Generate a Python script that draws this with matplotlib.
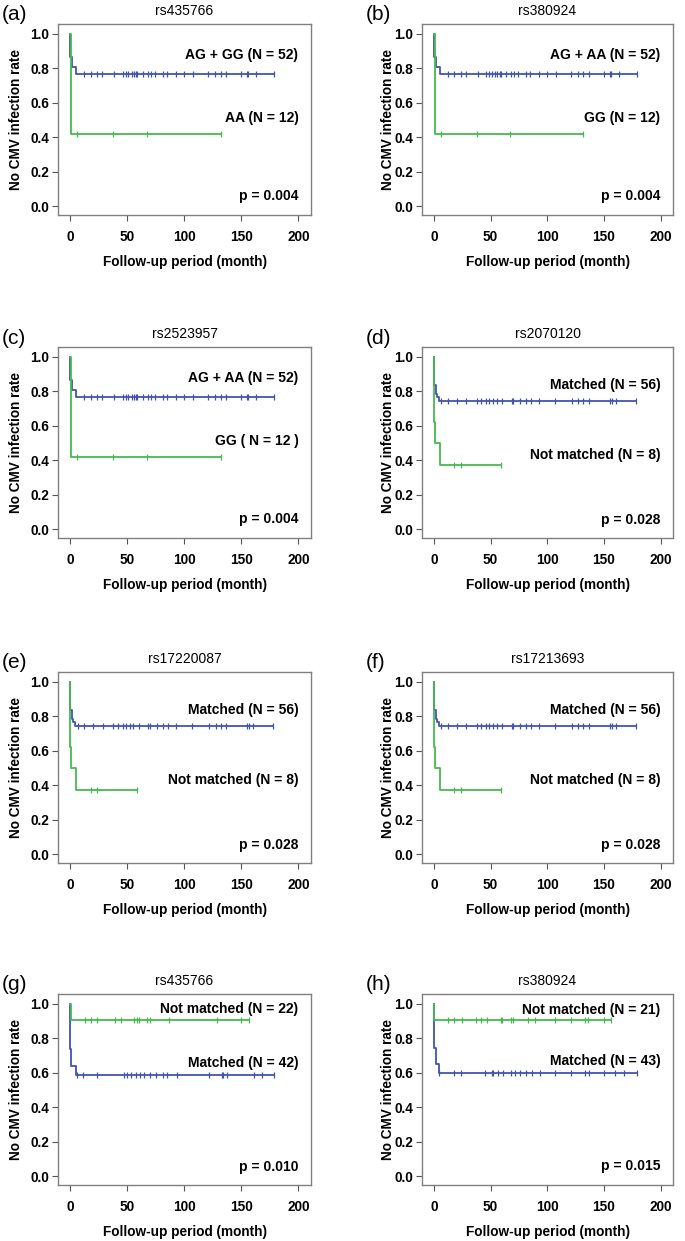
import numpy as np
import matplotlib
matplotlib.use("Agg")
import matplotlib.pyplot as plt

plt.rcParams['font.family'] = ['Liberation Sans', 'DejaVu Sans']

# ---------------- data ----------------
x_ticks = [0, 50, 100, 150, 200]
y_ticks = [0.0, 0.2, 0.4, 0.6, 0.8, 1.0]

panel_letters = ['(a)', '(b)', '(c)', '(d)', '(e)', '(f)', '(g)', '(h)']
snp_titles = ['rs435766', 'rs380924', 'rs2523957', 'rs2070120',
              'rs17220087', 'rs17213693', 'rs435766', 'rs380924']
blue_labels = ['AG + GG (N = 52)', 'AG + AA (N = 52)', 'AG + AA (N = 52)',
               'Matched (N = 56)', 'Matched (N = 56)', 'Matched (N = 56)',
               'Matched (N = 42)', 'Matched (N = 43)']
green_labels = ['AA (N = 12)', 'GG (N = 12)', 'GG ( N = 12 )',
                'Not matched (N = 8)', 'Not matched (N = 8)', 'Not matched (N = 8)',
                'Not matched (N = 22)', 'Not matched (N = 21)']
p_values = ['p = 0.004', 'p = 0.004', 'p = 0.004',
            'p = 0.028', 'p = 0.028', 'p = 0.028',
            'p = 0.010', 'p = 0.015']
# label heights (y, data units): blue label, green label, p value
blue_label_y = [0.88, 0.88, 0.88, 0.836, 0.836, 0.836, 0.66, 0.67]
green_label_y = [0.515, 0.515, 0.515, 0.43, 0.43, 0.43, 0.97, 0.967]
p_label_y = [0.062, 0.062, 0.062, 0.054, 0.054, 0.054, 0.054, 0.058]

# group 1: panels a-c
g1_blue_event_t = [0.3, 1.5, 5.0]
g1_blue_surv = [0.865, 0.808, 0.769]
g1_blue_cens = [12.6, 18, 24, 28, 38.6, 46, 49, 51, 54, 56, 58, 59, 64, 68, 71,
                74, 81, 85, 93, 100, 108, 121, 127, 132, 137, 150, 155, 156, 163, 179]
g1_green_event_t = [1.0]
g1_green_surv = [0.417]
g1_green_cens = [6, 38, 67, 132]

# group 2: panels d-f
g2_blue_event_t = [0.3, 1.5, 3.0, 4.5]
g2_blue_surv = [0.84, 0.786, 0.768, 0.745]
g2_blue_cens = [6.7, 12.5, 20, 28.6, 38, 42, 46, 49, 52.5, 55.5, 60, 68.6, 70, 76,
                81, 86, 93, 106.6, 122, 127.6, 132, 137, 155, 157, 160.6, 178]
g2_green_event_t = [0.3, 0.8, 5.0]
g2_green_surv = [0.625, 0.5, 0.375]
g2_green_cens = [18, 24, 59]

# group 3: panel g
g3_blue_event_t = [0.3, 1.0, 5.0]
g3_blue_surv = [0.738, 0.643, 0.59]
g3_blue_cens = [6.4, 11, 24, 47, 50, 53.6, 58, 61, 65, 70, 75, 81, 85, 94, 122,
                133, 134, 137.6, 161, 168, 179]
g3_green_event_t = [0.5]
g3_green_surv = [0.909]
g3_green_cens = [13, 18, 24, 39, 44.5, 56, 58.6, 60.6, 67, 70, 87, 129, 150, 157]

# group 4: panel h
g4_blue_event_t = [0.3, 1.5, 4.5]
g4_blue_surv = [0.744, 0.651, 0.60]
g4_blue_cens = [4.7, 18, 24, 45, 51, 52, 57, 61, 68, 72, 76, 81, 87, 94, 107, 121,
                133, 137, 150, 160, 168, 179]
g4_green_event_t = [0.5]
g4_green_surv = [0.905]
g4_green_cens = [12.6, 18, 25, 37, 42, 47, 59, 60, 68, 70, 83, 89, 107, 121, 133,
                 136, 150, 156]

groups = {
    1: (g1_blue_event_t, g1_blue_surv, g1_blue_cens, g1_green_event_t, g1_green_surv, g1_green_cens),
    2: (g2_blue_event_t, g2_blue_surv, g2_blue_cens, g2_green_event_t, g2_green_surv, g2_green_cens),
    3: (g3_blue_event_t, g3_blue_surv, g3_blue_cens, g3_green_event_t, g3_green_surv, g3_green_cens),
    4: (g4_blue_event_t, g4_blue_surv, g4_blue_cens, g4_green_event_t, g4_green_surv, g4_green_cens),
}
panel_group = [1, 1, 1, 2, 2, 2, 3, 4]

# ---------------- style ----------------
BLUE = '#4254B0'
GREEN = '#46BA50'
W, H = 685, 1241
col_left = [58, 422]
col_width = [253, 251]
row_top = [24, 347, 672, 994]
ax_h = 191
ylabel_off = [43, 35]


def km_curve(ax, ev_t, surv, cens, color):
    end = max(cens)
    xs = [0.0] + list(ev_t) + [end]
    ys = [1.0] + list(surv) + [surv[-1]]
    ax.step(xs, ys, where='post', color=color, lw=1.3, zorder=3)
    ev = np.array(ev_t)
    sv = np.array([1.0] + list(surv))
    idx = np.searchsorted(ev, np.array(cens), side='right')
    cy = sv[idx]
    ax.plot(cens, cy, ls='none', marker='|', ms=4, mew=0.9, color=color,
            zorder=3)


fig = plt.figure(figsize=(W / 100, H / 100), dpi=100)

for i in range(8):
    r, c = divmod(i, 2)
    left, width, top = col_left[c], col_width[c], row_top[r]
    ax = fig.add_axes([left / W, 1 - (top + ax_h) / H, width / W, ax_h / H])
    bt, bs, bc, gt, gs, gc = groups[panel_group[i]]
    km_curve(ax, bt, bs, bc, BLUE)
    km_curve(ax, gt, gs, gc, GREEN)

    ax.set_xlim(-10.5, 211)
    ax.set_ylim(-0.05, 1.058)
    ax.set_xticks(x_ticks)
    ax.set_yticks(y_ticks)
    ax.set_xticklabels([str(v) for v in x_ticks], fontsize=9.8, fontweight='bold')
    ax.set_yticklabels(['%.1f' % v for v in y_ticks], fontsize=9.8, fontweight='bold')
    ax.tick_params(axis='x', length=4.5, width=0.8, color='#555555', pad=6.5)
    ax.tick_params(axis='y', length=4, width=0.8, color='#555555', pad=2.5)
    for sp in ax.spines.values():
        sp.set_color('#808080')
        sp.set_linewidth(1.0)

    ax.set_xlabel('Follow-up period (month)', fontsize=9.8, fontweight='bold')
    ax.xaxis.set_label_coords(0.5, -0.212)
    ax.set_ylabel('No CMV infection rate', fontsize=9.8, fontweight='bold')
    ax.yaxis.set_label_coords((-ylabel_off[c] + 7.8) / width, 0.5)

    ax.text(200, blue_label_y[i], blue_labels[i], ha='right', va='center',
            fontsize=10, fontweight='bold')
    ax.text(200, green_label_y[i], green_labels[i], ha='right', va='center',
            fontsize=10, fontweight='bold')
    ax.text(200, p_label_y[i], p_values[i], ha='right', va='center',
            fontsize=10, fontweight='bold')

    ax.text(0.5, 1 + 13 / ax_h, snp_titles[i], transform=ax.transAxes,
            ha='center', va='center', fontsize=10)
    fig.text((left - 56) / W, 1 - (top - 9) / H, panel_letters[i],
             ha='left', va='center', fontsize=15)

fig.savefig('out.png', dpi=100)
